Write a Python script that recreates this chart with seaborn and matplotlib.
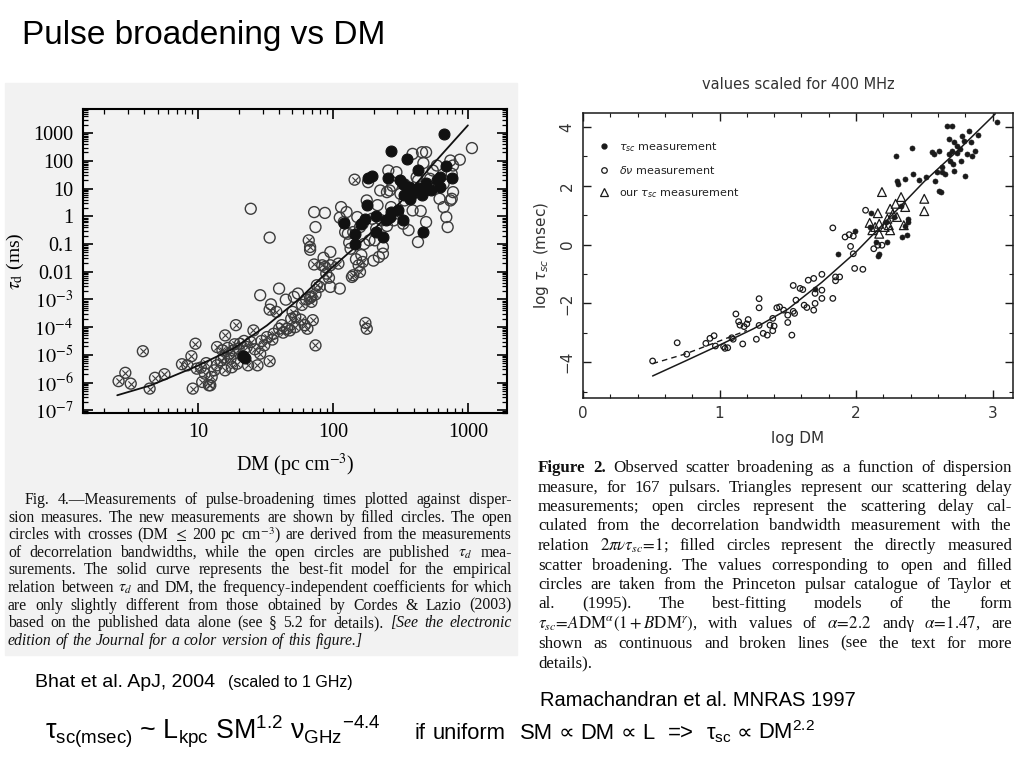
import matplotlib
matplotlib.use("Agg")
import matplotlib.pyplot as plt
import matplotlib.ticker as mticker
from matplotlib.lines import Line2D
from matplotlib.patches import Rectangle
import numpy as np
import pandas as pd
import seaborn as sns

# -----------------------------
# Bhat et al. 2004: (log10 DM, log10 tau_d [ms])
# -----------------------------
bhat_crossed = [
    (0.41, -5.95), (0.46, -5.65), (0.50, -6.04), (0.59, -4.87), (0.64, -6.22),
    (0.68, -5.83), (0.75, -5.70), (0.88, -5.34), (0.92, -5.38), (0.95, -5.05),
    (0.96, -6.22), (0.98, -4.60), (0.99, -5.50), (1.02, -5.46), (1.03, -5.98),
    (1.05, -5.68), (1.08, -6.10), (1.09, -6.10), (1.12, -5.56), (1.14, -5.38),
    (1.14, -4.72), (1.17, -5.20), (1.18, -4.84), (1.20, -5.56), (1.20, -4.30),
    (1.23, -4.96), (1.24, -5.14), (1.26, -4.84), (1.28, -3.93), (1.29, -5.32),
    (1.30, -4.78), (1.31, -4.60), (1.33, -5.05), (1.36, -4.72), (1.37, -5.38),
    (1.39, -4.54), (1.41, -4.12), (1.44, -5.38), (1.46, -4.96), (1.49, -4.66),
    (1.51, -4.36), (1.53, -3.37), (1.53, -5.23), (1.56, -4.24), (1.58, -3.45),
    (1.60, -4.06), (1.62, -3.93), (1.66, -4.06), (1.68, -4.12), (1.70, -3.45),
    (1.72, -3.63), (1.76, -3.73), (1.79, -3.93), (1.81, -4.06), (1.82, -0.87),
    (1.83, -1.11), (1.84, -3.09), (1.85, -3.75), (1.86, -1.74), (1.87, -4.66),
    (1.87, -2.82), (1.88, -2.49), (1.90, -2.55), (1.92, -1.77), (1.94, -1.83),
    (1.95, -2.07), (1.97, -2.22), (1.98, -1.77), (2.04, -1.71), (2.14, -2.19),
    (2.16, 1.32), (2.19, -1.77), (2.20, -2.01), (2.22, -1.65), (2.24, -3.85),
    (2.25, -4.06), (2.15, -2.13), (1.06, -5.30), (1.10, -5.80), (1.19, -5.10),
    (1.22, -4.75), (1.25, -5.45), (1.27, -4.62), (1.34, -4.50), (1.42, -4.80),
    (1.47, -4.50), (1.55, -4.45), (1.63, -4.20), (1.69, -3.70), (1.72, -4.00),
    (1.77, -3.20), (1.80, -3.00), (1.83, -2.95), (1.84, -2.90),
]
bhat_open = [
    (1.39, 0.27), (1.53, -0.77), (1.46, -2.85), (1.60, -2.61), (1.54, -3.18),
    (1.65, -3.01), (1.71, -2.91), (1.74, -2.79), (1.83, -1.21), (1.86, 0.15),
    (1.87, -0.39), (1.94, 0.12), (1.93, -1.50), (1.98, -1.29), (1.98, -2.55),
    (2.05, -2.61), (2.06, 0.33), (2.08, -0.21), (2.09, -0.57), (2.11, -0.63),
    (2.13, -1.17), (2.15, -0.57), (2.18, -0.03), (2.20, -0.39), (2.22, -0.27),
    (2.25, 0.57), (2.26, 1.23), (2.27, -0.87), (2.29, -0.09), (2.31, -0.87),
    (2.32, -0.45), (2.34, -1.47), (2.35, 0.93), (2.37, -1.11), (2.37, -1.35),
    (2.40, 0.87), (2.41, 1.65), (2.43, 0.33), (2.45, -0.15), (2.47, 1.59),
    (2.50, 0.81), (2.52, -0.27), (2.53, 0.57), (2.56, 0.99), (2.59, 0.21),
    (2.62, 1.41), (2.63, 1.29), (2.65, 0.19), (2.66, 2.31), (2.69, 2.31),
    (2.63, -0.93), (2.68, 0.99), (2.69, -0.21), (2.72, 1.35), (2.74, 1.65),
    (2.77, 1.83), (2.79, 0.63), (2.82, 1.17), (2.85, -0.39), (2.87, 0.57),
    (2.88, 1.53), (2.89, 1.83), (2.89, 0.87), (2.94, 2.04), (2.82, 0.33),
    (2.84, -0.03), (2.59, 2.25), (2.53, 1.15), (2.42, 0.93), (2.88, 0.63),
    (3.03, 2.46), (2.87, 2.01), (2.67, 1.92), (2.05, -0.05), (2.10, 0.15),
    (2.12, -0.95), (2.17, -1.55), (2.21, -1.40), (2.23, -1.00), (2.30, -1.60),
    (2.33, 0.40), (2.36, -0.15), (2.40, -0.35), (2.44, 1.10), (2.48, 0.10),
    (2.56, -0.50),
]
bhat_filled = [
    (2.82, 2.95), (2.43, 2.34), (2.55, 2.07), (2.63, 1.68), (2.26, 1.39),
    (2.29, 1.44), (2.41, 1.39), (2.50, 1.29), (2.52, 1.17), (2.56, 1.05),
    (2.58, 0.75), (2.61, 0.93), (2.63, 1.03), (2.66, 0.75), (2.68, 0.93),
    (2.69, 1.20), (2.73, 0.96), (2.77, 1.29), (2.79, 1.41), (2.84, 1.80),
    (2.88, 1.39), (2.79, 1.05), (2.53, 0.75), (2.57, 0.63), (2.08, -0.25),
    (2.16, -0.65), (2.16, -1.01), (2.21, -0.27), (2.24, -0.09), (2.25, 0.39),
    (2.32, 0.00), (2.32, -0.57), (2.37, -0.75), (2.39, -0.15), (2.42, -0.03),
    (2.43, 0.15), (2.48, 0.24), (2.52, -0.15), (2.67, -0.57), (1.33, -5.05),
    (1.35, -5.10),
]
bhat_fit = [
    (0.40, -6.46), (0.65, -6.10), (0.99, -5.41), (1.26, -4.78), (1.51, -3.94),
    (1.76, -2.94), (1.97, -1.95), (2.25, -0.75), (2.50, 0.51), (2.74, 1.87),
    (3.00, 3.28),
]

# -----------------------------
# Ramachandran et al. 1997: (log DM, log tau_sc [msec]) at 400 MHz
# -----------------------------
rama_filled = [
    (1.99, 0.45), (1.87, -0.33), (2.11, 1.07), (2.10, 0.60), (2.15, 0.09),
    (2.17, -0.31), (2.22, 0.77), (2.23, 0.09), (2.28, 0.94), (2.29, 3.03),
    (2.30, 2.18), (2.31, 2.07), (2.33, 1.30), (2.34, 0.26), (2.36, 2.24),
    (2.37, 0.32), (2.38, 0.77), (2.38, 0.88), (2.41, 3.28), (2.42, 2.41),
    (2.46, 2.21), (2.51, 2.30), (2.56, 3.14), (2.57, 3.09), (2.58, 2.18),
    (2.61, 1.84), (2.62, 1.79), (2.59, 2.47), (2.61, 3.20), (2.63, 2.64),
    (2.63, 2.47), (2.65, 2.41), (2.67, 4.05), (2.70, 4.03), (2.68, 3.60),
    (2.68, 3.09), (2.69, 2.86), (2.71, 2.75), (2.72, 2.52), (2.72, 3.48),
    (2.74, 3.11), (2.76, 3.26), (2.77, 2.86), (2.78, 3.71), (2.79, 3.54),
    (2.80, 2.35), (2.81, 3.09), (2.83, 3.88), (2.84, 3.48), (2.85, 3.03),
    (2.87, 3.20), (2.89, 3.73), (3.03, 4.16), (2.74, 3.34), (2.70, 3.20),
    (1.70, -1.50), (2.16, -0.40), (2.36, 0.62),
]
rama_open = [
    (0.51, -3.96), (0.69, -3.34), (0.76, -3.73), (0.90, -3.36), (0.93, -3.19),
    (0.96, -3.10), (0.97, -3.45), (1.03, -3.47), (1.04, -3.53), (1.06, -3.51),
    (1.09, -3.17), (1.10, -3.22), (1.12, -2.36), (1.14, -2.62), (1.15, -2.74),
    (1.17, -3.38), (1.18, -2.79), (1.20, -2.70), (1.21, -2.55), (1.27, -3.22),
    (1.29, -1.84), (1.29, -2.15), (1.29, -2.75), (1.32, -3.02), (1.35, -3.08),
    (1.37, -2.74), (1.39, -2.93), (1.39, -2.51), (1.40, -2.77), (1.42, -2.15),
    (1.44, -2.12), (1.47, -2.23), (1.50, -2.40), (1.50, -2.65), (1.53, -3.08),
    (1.54, -2.27), (1.54, -1.39), (1.55, -2.34), (1.56, -1.89), (1.59, -1.49),
    (1.61, -1.53), (1.62, -2.06), (1.64, -2.14), (1.65, -1.21), (1.69, -1.15),
    (1.69, -2.23), (1.70, -2.00), (1.70, -1.66), (1.75, -1.55), (1.75, -1.83),
    (1.75, -1.01), (1.83, -1.83), (1.85, -1.10), (1.85, -1.23), (1.83, 0.57),
    (1.88, -1.10), (1.92, 0.26), (1.95, 0.34), (1.96, -0.06), (1.98, 0.29),
    (1.98, -0.31), (1.99, -0.81), (2.05, -0.84), (2.07, 1.17), (2.13, -0.14),
    (2.16, -0.02), (2.19, -0.02),
]
rama_triangles = [
    (2.19, 1.79), (2.10, 0.74), (2.12, 0.49), (2.14, 0.60), (2.16, 1.07),
    (2.17, 0.71), (2.17, 0.37), (2.21, 0.60), (2.23, 0.88), (2.24, 0.66),
    (2.25, 0.49), (2.25, 1.22), (2.27, 1.05), (2.29, 1.39), (2.30, 0.94),
    (2.33, 1.62), (2.35, 0.66), (2.36, 1.28), (2.50, 1.56), (2.50, 1.14),
]
rama_fit_solid = [
    (0.51, -4.47), (0.75, -3.96), (1.00, -3.42), (1.25, -2.86), (1.50, -2.20),
    (1.75, -1.28), (2.00, -0.25), (2.25, 0.94), (2.50, 2.15), (2.75, 3.22),
    (3.02, 4.45),
]
rama_fit_dashed = [(0.51, -4.05), (0.75, -3.72), (1.00, -3.28), (1.20, -2.92)]

# caption texts ("*" = italic word, "**" = bold word)
bhat_caption = [
    "Fig. 4.\u2014Measurements of pulse-broadening times plotted against disper-",
    "sion measures. The new measurements are shown by filled circles. The open",
    "circles with crosses (DM $\\leq$ 200 pc cm$^{-3}$) are derived from the measurements",
    "of decorrelation bandwidths, while the open circles are published $\\tau_d$ mea-",
    "surements. The solid curve represents the best-fit model for the empirical",
    "relation between $\\tau_d$ and DM, the frequency-independent coefficients for which",
    "are only slightly different from those obtained by Cordes & Lazio (2003)",
    "based on the published data alone (see \u00a7 5.2 for details). *[See *the *electronic",
    "*edition *of *the *Journal *for *a *color *version *of *this *figure.]",
]
rama_caption = [
    "**Figure **2. Observed scatter broadening as a function of dispersion",
    "measure, for 167 pulsars. Triangles represent our scattering delay",
    "measurements; open circles represent the scattering delay cal-",
    "culated from the decorrelation bandwidth measurement with the",
    "relation $2\\pi\\nu\\tau_{sc}\\!=\\!1$; filled circles represent the directly measured",
    "scatter broadening. The values corresponding to open and filled",
    "circles are taken from the Princeton pulsar catalogue of Taylor et",
    "al. (1995). The best-fitting models of the form",
    "$\\tau_{sc}\\!=\\!A\\mathrm{DM}^{\\alpha}(1+B\\mathrm{DM}^{\\gamma})$, with values of "
    "$\\alpha\\!=\\!2.2$ and\u03b3 $\\alpha\\!=\\!1.47$, are",
    "shown as continuous and broken lines (see the text for more",
    "details).",
]

W, H = 1024, 768
sns.set_theme(style="ticks")
plt.rcParams["font.family"] = ["Liberation Serif", "DejaVu Sans"]
plt.rcParams["mathtext.fontset"] = "stix"
# "custom" math font used only by the slide formulas
plt.rcParams["mathtext.rm"] = "Liberation Sans"
plt.rcParams["mathtext.it"] = "Liberation Sans:italic"
plt.rcParams["mathtext.sf"] = "Liberation Sans"
plt.rcParams["mathtext.bf"] = "Liberation Sans:bold"

fig = plt.figure(figsize=(W / 100, H / 100), dpi=100)
fig.patch.set_facecolor("white")


def fx(px):
    return px / W


def fy(py):
    return 1 - py / H


def to_df(pairs, log_values=False):
    df = pd.DataFrame(pairs, columns=["x", "y"])
    if log_values:
        df["x"] = 10 ** df["x"]
        df["y"] = 10 ** df["y"]
    return df


# grey scanned panel behind the Bhat figure
fig.patches.append(Rectangle((fx(5), fy(655)), 512 / W, 572 / H,
                             transform=fig.transFigure, color="#f2f2f2", zorder=-5))

# -----------------------------
# Left: Bhat et al. 2004
# -----------------------------
ax1 = fig.add_axes([fx(83), fy(413), 424 / W, 304 / H])
ax1.set_facecolor("#f2f2f2")
grey = "#3c3c3c"
cross = to_df(bhat_crossed, True)
sns.scatterplot(data=cross, x="x", y="y", ax=ax1, marker="o", s=62,
                facecolor="none", edgecolor=grey, linewidth=1.0)
sns.scatterplot(data=cross, x="x", y="y", ax=ax1, marker="x", s=20,
                color=grey, linewidth=0.8)
sns.scatterplot(data=to_df(bhat_open, True), x="x", y="y", ax=ax1, marker="o",
                s=62, facecolor="none", edgecolor=grey, linewidth=1.0)
sns.scatterplot(data=to_df(bhat_filled, True), x="x", y="y", ax=ax1, marker="o",
                s=62, color="#111111", edgecolor="#111111", linewidth=0.8)
sns.lineplot(data=to_df(bhat_fit, True), x="x", y="y", ax=ax1, color="#111111",
             lw=1.3, sort=True, estimator=None)
ax1.set_xscale("log")
ax1.set_yscale("log")
ax1.set_xlim(1.4, 1950)
ax1.set_ylim(10 ** -7.1, 10 ** 3.87)
ax1.yaxis.set_major_locator(mticker.FixedLocator(10.0 ** np.arange(-7, 4)))
ax1.yaxis.set_minor_locator(mticker.LogLocator(subs=np.arange(2, 10), numticks=100))
ax1.xaxis.set_major_locator(mticker.FixedLocator([10, 100, 1000]))
ax1.xaxis.set_minor_locator(mticker.LogLocator(subs=np.arange(2, 10), numticks=100))


def tau_label(v, pos):
    e = int(round(np.log10(v)))
    if e >= 0:
        return f"{10 ** e}"
    if e >= -2:
        return f"{10.0 ** e:g}"
    return rf"$10^{{{e}}}$"


ax1.yaxis.set_major_formatter(mticker.FuncFormatter(tau_label))
ax1.xaxis.set_major_formatter(mticker.FuncFormatter(lambda v, p: f"{int(round(v))}"))
ax1.xaxis.set_minor_formatter(mticker.NullFormatter())
ax1.yaxis.set_minor_formatter(mticker.NullFormatter())
ax1.tick_params(which="both", direction="in", top=True, right=True, colors="black")
ax1.tick_params(which="major", length=7, width=1.2, labelsize=14.5, pad=7)
ax1.tick_params(which="minor", length=3.5, width=0.9)
for sp in ax1.spines.values():
    sp.set_linewidth(1.5)
    sp.set_color("black")
ax1.set_xlabel("DM (pc cm$^{-3}$)", fontsize=14.5, labelpad=7, color="black")
ax1.set_ylabel(r"$\tau_{\rm d}$ (ms)", fontsize=14, labelpad=5, color="black")

# -----------------------------
# Right: Ramachandran et al. 1997
# -----------------------------
ax2 = fig.add_axes([fx(583), fy(398), 430 / W, 285 / H])
ink = "#1a1a1a"
sns.scatterplot(data=to_df(rama_open), x="x", y="y", ax=ax2, marker="o", s=16,
                facecolor="none", edgecolor=ink, linewidth=0.9)
sns.scatterplot(data=to_df(rama_triangles), x="x", y="y", ax=ax2, marker="^", s=40,
                facecolor="none", edgecolor=ink, linewidth=0.9)
sns.scatterplot(data=to_df(rama_filled), x="x", y="y", ax=ax2, marker="o", s=13,
                color=ink, edgecolor=ink, linewidth=0.5)
sns.lineplot(data=to_df(rama_fit_solid), x="x", y="y", ax=ax2, color=ink, lw=1.1,
             sort=True, estimator=None)
sns.lineplot(data=to_df(rama_fit_dashed), x="x", y="y", ax=ax2, color=ink, lw=1.0,
             linestyle=(0, (4, 3)), sort=True, estimator=None)
ax2.set_xlim(0, 3.15)
ax2.set_ylim(-5.22, 4.48)
ax2.xaxis.set_major_locator(mticker.MultipleLocator(1))
ax2.xaxis.set_minor_locator(mticker.MultipleLocator(0.2))
ax2.yaxis.set_major_locator(mticker.MultipleLocator(2))
ax2.yaxis.set_minor_locator(mticker.MultipleLocator(1))
ax2.tick_params(which="both", direction="in", top=True, right=True, colors=ink,
                labelcolor="#333333")
ax2.tick_params(which="major", length=6, width=1.0, labelsize=11, pad=6,
                labelfontfamily="DejaVu Sans")
ax2.tick_params(which="minor", length=3, width=0.8)
ax2.tick_params(axis="y", labelrotation=90)
for lab in ax2.get_yticklabels():
    lab.set_va("center")
for sp in ax2.spines.values():
    sp.set_linewidth(1.1)
    sp.set_color(ink)
ax2.set_xlabel("log DM", fontsize=11, family="DejaVu Sans", color="#333333", labelpad=7)
ax2.set_ylabel(r"log $\tau_{sc}$ (msec)", fontsize=11, family="DejaVu Sans",
               color="#333333", math_fontfamily="dejavusans", labelpad=6)
ax2.set_title("values scaled for 400 MHz", fontsize=10.5, family="DejaVu Sans",
              color="#333333", pad=17)

handles = [
    Line2D([], [], ls="none", marker="o", ms=3.5, color=ink),
    Line2D([], [], ls="none", marker="o", ms=4, mfc="none", mec=ink, mew=0.9),
    Line2D([], [], ls="none", marker="^", ms=6, mfc="none", mec=ink, mew=0.9),
]
leg = ax2.legend(handles, [r"$\tau_{sc}$ measurement", r"$\delta\nu$ measurement",
                           r"our $\tau_{sc}$ measurement"],
                 loc="upper left", bbox_to_anchor=(0.035, 0.905), frameon=False,
                 borderaxespad=0, borderpad=0, handlelength=1.0, handletextpad=0.9,
                 labelspacing=0.9, prop={"family": "DejaVu Sans", "size": 8})
for t in leg.get_texts():
    t.set_math_fontfamily("dejavusans")
    t.set_color("#222222")


# -----------------------------
# Captions (justified lines, like the scanned journal text)
# -----------------------------
def draw_line(line, x0, x1, y, size, justify):
    r = fig.canvas.get_renderer()
    items = []
    for word in line.split(" "):
        style, weight = "normal", "normal"
        if word.startswith("**"):
            word, weight = word[2:], "bold"
        elif word.startswith("*"):
            word, style = word[1:], "italic"
        items.append(fig.text(fx(x0), fy(y), word, fontsize=size,
                              family="Liberation Serif", style=style, weight=weight,
                              va="baseline", ha="left", color="#111111",
                              math_fontfamily="stix"))
    widths = [t.get_window_extent(r).width for t in items]
    gap = size * 0.27 * 100 / 72
    if justify and len(items) > 1:
        gap = (x1 - x0 - sum(widths)) / (len(items) - 1)
    x = x0
    for t, w in zip(items, widths):
        t.set_x(fx(x))
        x += w + gap


for i, line in enumerate(bhat_caption):
    draw_line(line, 25 if i == 0 else 8, 512, 504 + 17.6 * i, 11.3,
              justify=i < len(bhat_caption) - 1)
for i, line in enumerate(rama_caption):
    draw_line(line, 538, 1012, 472 + 19.5 * i, 12.2,
              justify=i < len(rama_caption) - 1)

# -----------------------------
# Slide texts
# -----------------------------
sans = ["Liberation Sans", "DejaVu Sans"]


def draw_run(parts, x, y, size):
    """Place text pieces one after another; each piece is (text, gap after in px)."""
    r = fig.canvas.get_renderer()
    for text, gap in parts:
        t = fig.text(fx(x), fy(y), text, fontsize=size, family=sans, va="baseline",
                     color="black", math_fontfamily="custom")
        x += t.get_window_extent(r).width + gap


fig.text(fx(22), fy(44), "Pulse broadening vs DM", fontsize=24, family=sans,
         va="baseline", color="black")
fig.text(fx(35), fy(687), "Bhat et al. ApJ, 2004", fontsize=14, family=sans,
         va="baseline", color="black")
fig.text(fx(228), fy(687), "(scaled to 1 GHz)", fontsize=11.5, family=sans,
         va="baseline", color="black")
fig.text(fx(540), fy(706), "Ramachandran et al. MNRAS 1997", fontsize=14.5,
         family=sans, va="baseline", color="black")
fig.text(fx(45), fy(739),
         r"$\mathrm{\tau}_{\mathrm{sc(msec)}}$ ~ L$_{\mathrm{kpc}}$ SM$^{1.2}$ "
         r"$\mathrm{\nu}_{\mathrm{GHz}}{}^{\mathrm{-4.4}}$",
         fontsize=19.3, family=sans, va="baseline", color="black",
         math_fontfamily="custom")
draw_run([("if", 8), ("uniform", 14), ("SM", 6), ("\u221d", 6), ("DM", 6),
          ("\u221d", 6), ("L", 13), ("=>", 12), (r"$\mathrm{\tau}_{\mathrm{sc}}$", 5),
          ("\u221d", 6), (r"DM$^{2.2}$", 0)], 414, 739, 15.8)

fig.savefig("out.png", dpi=100)
